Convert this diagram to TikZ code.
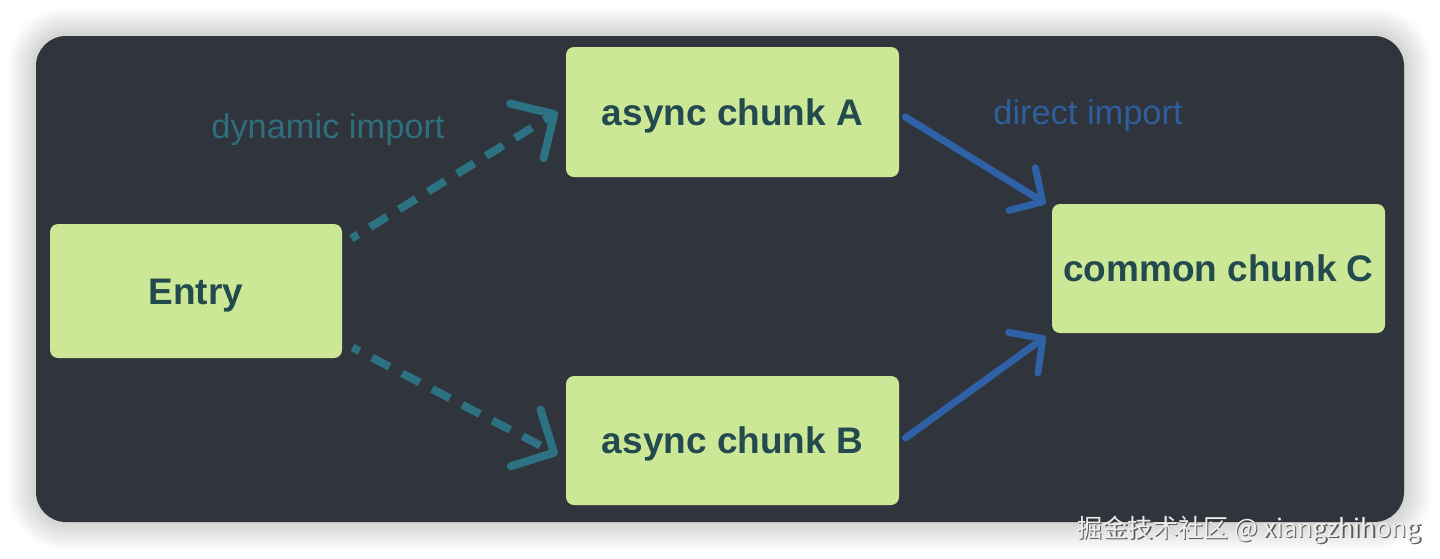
\documentclass[tikz,border=0pt]{standalone}
\usepackage{fontspec}
\setmainfont{Liberation Sans}
\newfontfamily\cjkfont{Noto Sans CJK SC}
\usetikzlibrary{arrows.meta,calc}
\definecolor{bgdark}{HTML}{30343D}
\definecolor{boxfill}{HTML}{CCE896}
\definecolor{boxtext}{HTML}{234A4E}
\definecolor{dyncol}{HTML}{2D7282}
\definecolor{dynlabel}{HTML}{2F6E7C}
\definecolor{dircol}{HTML}{2E61A6}
\definecolor{dirlabel}{HTML}{2F5E9C}
\definecolor{wmtext}{HTML}{EEEEEE}
\definecolor{wmshadow}{HTML}{3A3A3A}
\begin{document}
\begin{tikzpicture}[x=0.5pt,y=-0.5pt,
  chunk/.style={rectangle, rounded corners=4pt, fill=boxfill, text=boxtext,
    font=\bfseries\fontsize{18.5pt}{22pt}\selectfont, inner sep=0pt,
    text height=13.25pt, text depth=0pt,
    minimum width=166.5pt, minimum height=65pt},
  lbl/.style={font=\fontsize{17.2pt}{20pt}\selectfont, inner sep=0pt, anchor=base},
  dynarrow/.style={draw=dyncol, line width=4pt, dash pattern=on 10pt off 7pt, dash phase=6pt,
    -{Straight Barb[length=16pt,width=32pt,round]}},
  dirarrow/.style={draw=dircol, line width=3.5pt, line cap=round,
    -{Straight Barb[length=12pt,width=25pt,round]}},
  wm/.style={font=\cjkfont\fontsize{12.6pt}{14pt}\selectfont, inner sep=0pt, anchor=base west}
]
\useasboundingbox (0,0) rectangle (1440,558);
\fill[white] (0,0) rectangle (1440,558);
% soft shadow of the panel
\foreach \i in {1,...,14}{
  \fill[black, opacity=0.011, rounded corners=15pt+\i*1pt]
    (36-\i*2,36-\i*2) rectangle (1404+\i*2,522+\i*2);
}
% dark panel
\fill[bgdark, rounded corners=15pt] (36,36) rectangle (1404,522);

% nodes
\node[chunk, minimum width=146pt, minimum height=67pt] (entry) at (196,291) {Entry};
\node[chunk] (chunkA) at (732.5,112) {async chunk A};
\node[chunk, minimum height=64.5pt] (chunkB) at (732.5,440.5) {async chunk B};
\node[chunk, minimum height=64.5pt] (chunkC) at (1218.5,268.5) {common chunk C};

% labels
\node[lbl, text=dynlabel] (dynlbl) at (328,138) {dynamic import};
\node[lbl, text=dirlabel] (dirlbl) at (1088,124) {direct import};

% connectors
\draw[dynarrow] ($(entry.north east)+(9,15)$) -- ($(chunkA.west)+(-8,0)$);
\draw[dynarrow] ($(entry.south east)+(10,-11)$) -- ($(chunkB.west)+(-8,14)$);
\draw[dirarrow] ($(chunkA.east)+(6,5)$) -- ($(chunkC.west)+(-6,-65)$);
\draw[dirarrow] ($(chunkB.east)+(6,-2.5)$) -- ($(chunkC.west)+(-6,68)$);

% watermark
\node[wm, text=wmshadow, opacity=0.8] (wmshadowtext) at (1078.5,538.5) {掘金技术社区 @ xiangzhihong};
\node[wm, text=wmtext] (wmtextnode) at (1077,537) {掘金技术社区 @ xiangzhihong};
\end{tikzpicture}
\end{document}
